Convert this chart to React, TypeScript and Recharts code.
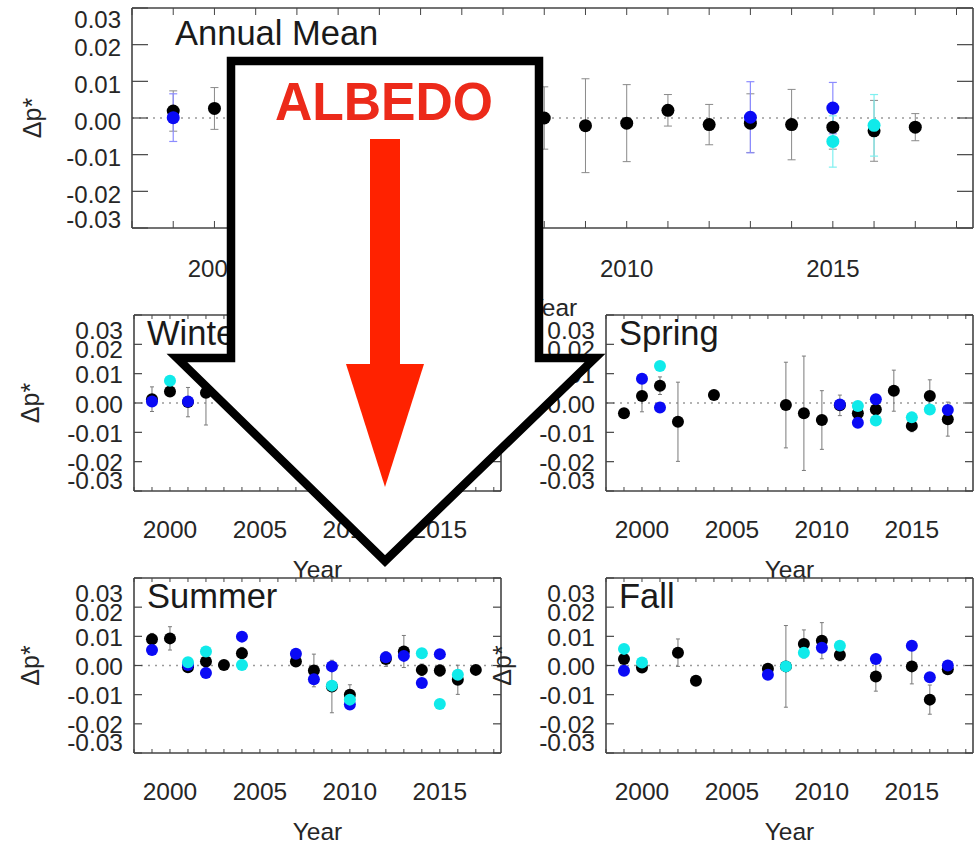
import React from 'react';
import { ScatterChart, Scatter, XAxis, YAxis, ErrorBar, ReferenceLine } from 'recharts';

const W = 974;
const H = 843;
const FONT = '"Liberation Sans", Arial, Helvetica, sans-serif';
const TEXT = '#262626';
const FRAME = '#444444';
const AX = 1; // axis box thickness (Recharts does not draw 0-sized axes)

// ---- axes ----
const YEARS = [1999, 2000, 2001, 2002, 2003, 2004, 2005, 2006, 2007, 2008, 2009, 2010, 2011, 2012, 2013, 2014, 2015, 2016, 2017];
const X_TICKS = [1998, 1999, 2000, 2001, 2002, 2003, 2004, 2005, 2006, 2007, 2008, 2009, 2010, 2011, 2012, 2013, 2014, 2015, 2016, 2017, 2018];
const X_LABELS = [2000, 2005, 2010, 2015];
const Y_TICKS = [-0.03, -0.02, -0.01, 0, 0.01, 0.02, 0.03];
const Y_LABELS = ['-0.03', '-0.02', '-0.01', '0.00', '0.01', '0.02', '0.03'];
const X_TITLE = 'Year';
const Y_TITLE = 'Δp*';
const OVERLAY_TEXT = 'ALBEDO';

// ---- Annual Mean ----
const annualBlack = [0.0019, 0.0026, null, null, null, null, null, null, null, 0.0, -0.0021, -0.0014, 0.0021, -0.0018, -0.0014, -0.0018, -0.0025, -0.0035, -0.0025];
const annualBlackErr = [0.0055, 0.0057, null, null, null, null, null, null, null, 0.0085, 0.0128, 0.0105, 0.0043, 0.0055, 0.008, 0.0096, 0.006, 0.0083, 0.0037];
const annualBlue = [0.0001, null, null, null, null, null, null, null, null, null, null, null, null, null, 0.0002, null, 0.0027, null, null];
const annualBlueErr = [0.0065, null, null, null, null, null, null, null, null, null, null, null, null, null, 0.0097, null, 0.007, null, null];
const annualCyan = [null, null, null, null, null, null, null, null, null, null, null, null, null, null, null, null, -0.0064, -0.002, null];
const annualCyanErr = [null, null, null, null, null, null, null, null, null, null, null, null, null, null, null, null, 0.007, 0.0084, null];

// ---- Winter ----
const winterBlack = [0.0013, 0.0039, 0.0003, 0.0035, null, null, null, null, null, null, null, null, null, null, null, null, null, null, null];
const winterBlackErr = [0.0042, 0.0015, 0.005, 0.011, null, null, null, null, null, null, null, null, null, null, null, null, null, null, null];
const winterBlue = [0.0005, null, 0.0005, null, null, null, null, null, null, null, null, null, null, null, null, null, null, null, null];
const winterCyan = [null, 0.0076, null, null, null, null, null, null, null, null, null, null, null, null, null, null, null, null, null];

// ---- Spring ----
const springBlack = [-0.0035, 0.0024, 0.0059, -0.0064, null, 0.0027, null, null, null, -0.0007, -0.0035, -0.0058, -0.0008, -0.0035, -0.0022, 0.0042, -0.0078, 0.0024, -0.0055];
const springBlackErr = [0.001, 0.0054, 0.003, 0.0135, null, 0.001, null, null, null, 0.0146, 0.0195, 0.01, 0.0035, 0.003, 0.003, 0.007, 0.002, 0.0055, 0.0058];
const springBlue = [null, 0.0083, -0.0015, null, null, null, null, null, null, null, null, null, -0.0005, -0.0067, 0.0013, null, null, null, -0.0024];
const springCyan = [null, null, 0.0126, null, null, null, null, null, null, null, null, null, null, -0.001, -0.006, null, -0.0049, -0.0022, null];

// ---- Summer ----
const summerBlack = [0.009, 0.0093, -0.0006, 0.0014, 0.0002, 0.0042, null, null, 0.0014, -0.0017, -0.0072, -0.01, null, 0.0022, 0.0048, -0.0015, -0.0017, -0.0049, -0.0015];
const summerBlackErr = [0.002, 0.004, 0.001, 0.002, 0.0015, 0.002, null, null, 0.001, 0.0056, 0.009, 0.0034, null, 0.0025, 0.0055, 0.002, 0.002, 0.005, 0.001];
const summerBlue = [0.0053, null, 0.0002, -0.0026, null, 0.0099, null, null, 0.004, -0.0047, -0.0003, -0.0134, null, 0.0028, 0.0033, -0.006, 0.0039, null, null];
const summerCyan = [null, null, 0.0011, 0.0048, null, 0.0002, null, null, null, null, -0.0069, -0.0117, null, null, null, 0.0042, -0.0132, -0.0032, null];

// ---- Fall ----
const fallBlack = [0.0022, -0.0007, null, 0.0044, -0.0052, null, null, null, -0.0011, -0.0003, 0.0074, 0.0085, 0.0036, null, -0.0038, null, -0.0003, -0.0117, -0.0013];
const fallBlackErr = [0.002, 0.001, null, 0.0047, 0.001, null, null, null, 0.001, 0.014, 0.0048, 0.0062, 0.002, null, 0.005, null, 0.006, 0.005, 0.001];
const fallBlue = [-0.0018, null, null, null, null, null, null, null, -0.0032, null, null, 0.0061, null, null, 0.0022, null, 0.0068, -0.004, 0.0];
const fallCyan = [0.0057, 0.001, null, null, null, null, null, null, null, -0.0003, 0.0044, null, 0.0068, null, null, null, null, null, null];

type Row = { x: number; y: number; err: number };

function rows(vals: (number | null)[], errs?: (number | null)[]): Row[] {
  const out: Row[] = [];
  vals.forEach((v, i) => {
    if (v !== null && v !== undefined) {
      const e = errs ? errs[i] : null;
      out.push({ x: YEARS[i], y: v, err: e === null || e === undefined ? 0 : e });
    }
  });
  return out;
}

type Panel = {
  title: string;
  left: number;
  top: number;
  right: number;
  bottom: number;
  big: boolean;
  black: Row[];
  blue: Row[];
  cyan: Row[];
  blueErr: boolean;
  cyanErr: boolean;
};

const PANELS: Panel[] = [
  { title: 'Annual Mean', left: 132, top: 8, right: 973, bottom: 228, big: true,
    black: rows(annualBlack, annualBlackErr), blue: rows(annualBlue, annualBlueErr), cyan: rows(annualCyan, annualCyanErr), blueErr: true, cyanErr: true },
  { title: 'Winter', left: 134, top: 315, right: 501, bottom: 491, big: false,
    black: rows(winterBlack, winterBlackErr), blue: rows(winterBlue), cyan: rows(winterCyan), blueErr: false, cyanErr: false },
  { title: 'Spring', left: 606, top: 315, right: 973, bottom: 491, big: false,
    black: rows(springBlack, springBlackErr), blue: rows(springBlue), cyan: rows(springCyan), blueErr: false, cyanErr: false },
  { title: 'Summer', left: 134, top: 578, right: 501, bottom: 753, big: false,
    black: rows(summerBlack, summerBlackErr), blue: rows(summerBlue), cyan: rows(summerCyan), blueErr: false, cyanErr: false },
  { title: 'Fall', left: 606, top: 578, right: 973, bottom: 753, big: false,
    black: rows(fallBlack, fallBlackErr), blue: rows(fallBlue), cyan: rows(fallCyan), blueErr: false, cyanErr: false },
];

function yLabelShift(v: number, big: boolean): number {
  const k = Math.round(v * 100);
  if (big) {
    if (k === 3) return 11;
    if (k === -3) return -9;
    return 3;
  }
  if (k === 3) return 15;
  if (k === 2) return 5;
  if (k === -3) return -11;
  return 1;
}

function makeXTick(len: number, dir: number, labelOffset: number | null, fs: number) {
  return (props: any) => {
    const { x, y, payload } = props;
    const v = payload.value;
    return (
      <g>
        <line x1={x} y1={y} x2={x} y2={y + dir * len} stroke={FRAME} strokeWidth={1} />
        {labelOffset !== null && X_LABELS.includes(v) ? (
          <text x={x} y={y + labelOffset} textAnchor="middle" dominantBaseline="central" fontSize={fs} fill={TEXT} fontFamily={FONT}>
            {String(v)}
          </text>
        ) : null}
      </g>
    );
  };
}

function makeYTick(len: number, dir: number, withLabel: boolean, big: boolean, fs: number) {
  return (props: any) => {
    const { x, y, payload } = props;
    const v = payload.value as number;
    const idx = Y_TICKS.findIndex((t) => Math.abs(t - v) < 1e-9);
    return (
      <g>
        <line x1={x} y1={y} x2={x + dir * len} y2={y} stroke={FRAME} strokeWidth={1.2} />
        {withLabel ? (
          <text x={x - 11} y={y + yLabelShift(v, big)} textAnchor="end" dominantBaseline="central" fontSize={fs} fill={TEXT} fontFamily={FONT}>
            {Y_LABELS[idx]}
          </text>
        ) : null}
      </g>
    );
  };
}

function dot(color: string, r: number) {
  return (props: any) => <circle cx={props.cx} cy={props.cy} r={r} fill={color} />;
}

function PanelChart({ p }: { p: Panel }) {
  const xLen = p.big ? 7 : 4;
  const yLen = p.big ? 16 : 8;
  const xLabOff = p.big ? 40 : 38;
  const fs = p.big ? 24 : 24.5;
  const r = p.big ? 6.5 : 6;
  const cap = p.big ? 4 : 2;
  const cx = (p.left + p.right) / 2;
  const cy = (p.top + p.bottom) / 2;
  const titleX = p.left + (p.big ? 43 : 13);
  const titleY = p.top + (p.big ? 37 : 30);
  const yTitleX = p.left - (p.big ? 100 : 104);
  const xTitleY = p.bottom + (p.big ? 79 : 78);
  return (
    <div style={{ position: 'absolute', left: 0, top: 0, width: W, height: H }}>
      <ScatterChart
        width={W}
        height={H}
        margin={{ left: p.left - AX, top: p.top - AX, right: W - p.right - AX, bottom: H - p.bottom - AX }}
      >
        <XAxis
          xAxisId="b"
          type="number"
          dataKey="x"
          orientation="bottom"
          domain={[1998, 2018.4]}
          allowDataOverflow
          ticks={X_TICKS}
          interval={0}
          height={AX}
          tickSize={0}
          tickMargin={0}
          tickLine={false}
          axisLine={{ stroke: FRAME, strokeWidth: 1.6 }}
          tick={makeXTick(xLen, -1, xLabOff, fs)}
          label={{
            content: () => (
              <text x={cx} y={xTitleY} textAnchor="middle" dominantBaseline="central" fontSize={24.5} fill={TEXT} fontFamily={FONT}>
                {X_TITLE}
              </text>
            ),
          }}
        />
        <XAxis
          xAxisId="t"
          type="number"
          dataKey="x"
          orientation="top"
          domain={[1998, 2018.4]}
          allowDataOverflow
          ticks={X_TICKS}
          interval={0}
          height={AX}
          tickSize={0}
          tickMargin={0}
          tickLine={false}
          axisLine={{ stroke: FRAME, strokeWidth: 1.6 }}
          tick={makeXTick(xLen, 1, null, fs)}
          label={{
            content: () => (
              <text x={titleX} y={titleY} textAnchor="start" fontSize={34.5} fill="#1a1a1a" fontFamily={FONT}>
                {p.title}
              </text>
            ),
          }}
        />
        <YAxis
          yAxisId="l"
          type="number"
          dataKey="y"
          orientation="left"
          domain={[-0.03, 0.03]}
          allowDataOverflow
          ticks={Y_TICKS}
          interval={0}
          width={AX}
          tickSize={0}
          tickMargin={0}
          tickLine={false}
          axisLine={{ stroke: FRAME, strokeWidth: 1.6 }}
          tick={makeYTick(yLen, 1, true, p.big, fs)}
          label={{
            content: () => (
              <text
                x={yTitleX}
                y={cy}
                textAnchor="middle"
                dominantBaseline="central"
                fontSize={25}
                fill={TEXT}
                fontFamily={FONT}
                transform={`rotate(-90 ${yTitleX} ${cy})`}
              >
                {Y_TITLE}
              </text>
            ),
          }}
        />
        <YAxis
          yAxisId="r"
          type="number"
          dataKey="y"
          orientation="right"
          domain={[-0.03, 0.03]}
          allowDataOverflow
          ticks={Y_TICKS}
          interval={0}
          width={AX}
          tickSize={0}
          tickMargin={0}
          tickLine={false}
          axisLine={{ stroke: FRAME, strokeWidth: 1.6 }}
          tick={makeYTick(yLen, -1, false, p.big, fs)}
        />
        <ReferenceLine xAxisId="b" yAxisId="l" y={0} stroke="#9a9a9a" strokeWidth={1.3} strokeDasharray="2 5" />
        <Scatter xAxisId="b" yAxisId="l" data={p.black} dataKey="y" isAnimationActive={false} shape={dot('#000000', r)}>
          <ErrorBar dataKey="err" direction="y" width={cap} stroke={p.big ? '#8a8a8a' : '#7a7a7a'} strokeWidth={1} />
        </Scatter>
        <Scatter xAxisId="b" yAxisId="l" data={p.blue} dataKey="y" isAnimationActive={false} shape={dot('#0a0af5', r)}>
          {p.blueErr ? <ErrorBar dataKey="err" direction="y" width={cap} stroke="#8c8cff" strokeWidth={1.2} /> : null}
        </Scatter>
        <Scatter xAxisId="b" yAxisId="l" data={p.cyan} dataKey="y" isAnimationActive={false} shape={dot('#10eaea', r)}>
          {p.cyanErr ? <ErrorBar dataKey="err" direction="y" width={cap} stroke="#7ff0f0" strokeWidth={1.2} /> : null}
        </Scatter>
      </ScatterChart>
    </div>
  );
}

function ArrowOverlay() {
  return (
    <svg width={W} height={H} style={{ position: 'absolute', left: 0, top: 0 }}>
      <polygon
        points="231,61 539,61 539,358 595,358 385,561 177,358 231,358"
        fill="#ffffff"
        stroke="#000000"
        strokeWidth={8.5}
        strokeLinejoin="miter"
        strokeMiterlimit={10}
      />
      <text x={384} y={120} textAnchor="middle" fontSize={53} fontWeight="bold" fill="#ec2a1a" fontFamily={FONT} textLength={218} lengthAdjust="spacingAndGlyphs">
        {OVERLAY_TEXT}
      </text>
      <rect x={370} y={139} width={30} height={226} fill="#ff2200" />
      <polygon points="346,364 424,364 385,487" fill="#ff2200" />
    </svg>
  );
}

export default function App() {
  return (
    <div style={{ position: 'absolute', left: 0, top: 0, width: W, height: H, overflow: 'hidden', background: '#ffffff' }}>
      {PANELS.map((p) => (
        <PanelChart key={p.title} p={p} />
      ))}
      <ArrowOverlay />
    </div>
  );
}
